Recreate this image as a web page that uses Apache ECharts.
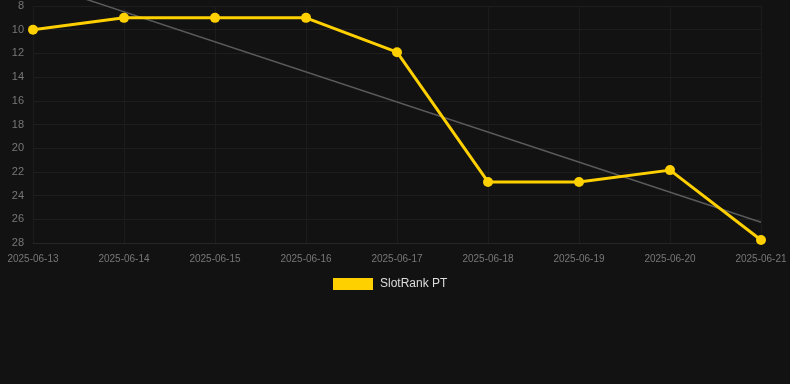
<!DOCTYPE html>
<html><head><meta charset="utf-8">
<script src="https://cdn.jsdelivr.net/npm/echarts@6/dist/echarts.min.js"></script>
<style>html,body{margin:0;padding:0;background:#121212;}#c{width:790px;height:384px;}</style>
</head><body><div id="c"></div>
<script>
var categories = ['2025-06-13','2025-06-14','2025-06-15','2025-06-16','2025-06-17','2025-06-18','2025-06-19','2025-06-20','2025-06-21'];
var rankValues = [10, 9, 9, 9, 11.9, 22.85, 22.85, 21.85, 27.75];
var trendPoints = [[0, 5.95], [8, 26.25]];
var yTicks = [8, 28, 2];
var seriesName = 'SlotRank PT';

var chart = echarts.init(document.getElementById('c'));
chart.setOption({
  backgroundColor: '#121212',
  animation: false,
  grid: {left: 33, right: 29, top: 6, bottom: 141, containLabel: false},
  legend: {
    data: [seriesName], top: 273, left: 328,
    itemWidth: 40, itemHeight: 12, itemGap: 10,
    textStyle: {color: '#dddddd', fontSize: 12, fontFamily: 'Liberation Sans, Arial', padding: [0, 0, 0, 2]},
    icon: 'rect'
  },
  xAxis: {
    type: 'category', data: categories, boundaryGap: false,
    axisLine: {show: true, lineStyle: {color: '#262626'}},
    axisTick: {show: false},
    axisLabel: {color: '#777777', fontSize: 10, margin: 11, fontFamily: 'Liberation Sans, Arial'},
    splitLine: {show: true, lineStyle: {color: '#1c1c1c'}}
  },
  yAxis: {
    type: 'value', inverse: true, min: yTicks[0], max: yTicks[1], interval: yTicks[2],
    axisLine: {show: false}, axisTick: {show: false},
    axisLabel: {color: '#777777', fontSize: 11, margin: 9, fontFamily: 'Liberation Sans, Arial'},
    splitLine: {show: true, lineStyle: {color: '#1e1e1e'}}
  },
  series: [
    {
      name: 'trend', type: 'line', data: trendPoints, clip: false,
      symbol: 'none', silent: true,
      lineStyle: {color: '#5a5a5a', width: 1.5}, z: 1
    },
    {
      name: seriesName, type: 'line', data: rankValues,
      symbol: 'circle', symbolSize: 10,
      itemStyle: {color: '#FFD000'},
      lineStyle: {color: '#FFD000', width: 3}, z: 2
    }
  ]
});
</script></body></html>
